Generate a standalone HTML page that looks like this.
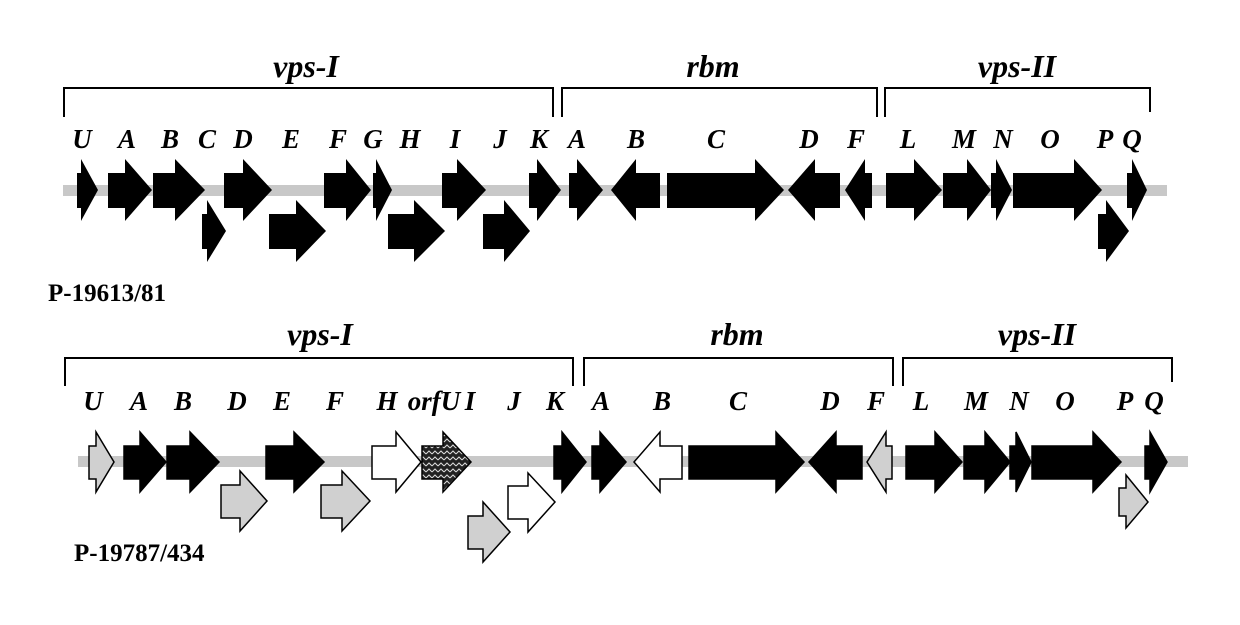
<!DOCTYPE html>
<html><head><meta charset="utf-8"><style>
html,body{margin:0;padding:0;background:#fff;}
svg{display:block;}
.g{font-family:"Liberation Serif",serif;font-style:italic;font-weight:bold;font-size:27px;fill:#000;text-anchor:middle;}
.h{font-family:"Liberation Serif",serif;font-style:italic;font-weight:bold;font-size:32px;fill:#000;text-anchor:middle;}
.p{font-family:"Liberation Serif",serif;font-weight:bold;font-size:25px;fill:#000;}
</style></head><body>
<svg width="1240" height="625" viewBox="0 0 1240 625" xmlns="http://www.w3.org/2000/svg">
<defs>
<pattern id="hatch" width="6" height="6" patternUnits="userSpaceOnUse">
<rect width="6" height="6" fill="#222"/>
<path d="M0 4 L3 1 L6 4" stroke="#ddd" stroke-width="1" fill="none"/>
</pattern>
</defs>
<g stroke="#000" stroke-width="2" fill="none">
<path d="M64 117 V88 H553 V117"/>
<path d="M562 117 V88 H877 V117"/>
<path d="M885 117 V88 H1150 V112"/>
<path d="M65 386 V358 H573 V386"/>
<path d="M584 386 V358 H893 V386"/>
<path d="M903 386 V358 H1172 V382"/>
</g>
<text class="h" x="306" y="77">vps-I</text>
<text class="h" x="713" y="77">rbm</text>
<text class="h" x="1017" y="77">vps-II</text>
<text class="h" x="320" y="345">vps-I</text>
<text class="h" x="737" y="345">rbm</text>
<text class="h" x="1037" y="345">vps-II</text>
<g class="g">
<text x="82" y="148">U</text><text x="127" y="148">A</text><text x="170" y="148">B</text><text x="207" y="148">C</text><text x="243" y="148">D</text><text x="291" y="148">E</text><text x="338" y="148">F</text><text x="373" y="148">G</text><text x="410" y="148">H</text><text x="455" y="148">I</text><text x="500" y="148">J</text><text x="539" y="148">K</text>
<text x="577" y="148">A</text><text x="636" y="148">B</text><text x="716" y="148">C</text><text x="809" y="148">D</text><text x="856" y="148">F</text><text x="908" y="148">L</text><text x="964" y="148">M</text><text x="1003" y="148">N</text><text x="1050" y="148">O</text><text x="1105" y="148">P</text><text x="1132" y="148">Q</text>
</g>
<g class="g">
<text x="93" y="410">U</text><text x="139" y="410">A</text><text x="183" y="410">B</text><text x="237" y="410">D</text><text x="282" y="410">E</text><text x="335" y="410">F</text><text x="387" y="410">H</text><text x="434" y="410">orfU</text><text x="470" y="410">I</text><text x="514" y="410">J</text><text x="555" y="410">K</text>
<text x="601" y="410">A</text><text x="662" y="410">B</text><text x="738" y="410">C</text><text x="830" y="410">D</text><text x="876" y="410">F</text><text x="921" y="410">L</text><text x="976" y="410">M</text><text x="1019" y="410">N</text><text x="1065" y="410">O</text><text x="1125" y="410">P</text><text x="1154" y="410">Q</text>
</g>
<text class="p" x="48" y="301">P-19613/81</text>
<text class="p" x="74" y="561">P-19787/434</text>
<rect x="63" y="185" width="1104" height="11" fill="#c8c8c8"/>
<rect x="78" y="456" width="1110" height="11" fill="#c8c8c8"/>
<g fill="#000">
<polygon points="77,173 81,173 81,159 98,190 81,221 81,208 77,208"/>
<polygon points="108,173 125,173 125,159 152,190 125,221 125,208 108,208"/>
<polygon points="153,173 175,173 175,159 205,190 175,221 175,208 153,208"/>
<polygon points="224,173 243,173 243,159 272,190 243,221 243,208 224,208"/>
<polygon points="324,173 346,173 346,159 371,190 346,221 346,208 324,208"/>
<polygon points="373,173 376,173 376,159 392,190 376,221 376,208 373,208"/>
<polygon points="442,173 457,173 457,159 486,190 457,221 457,208 442,208"/>
<polygon points="529,173 537,173 537,159 561,190 537,221 537,208 529,208"/>
<polygon points="569,173 577,173 577,159 603,190 577,221 577,208 569,208"/>
<polygon points="667,173 755,173 755,159 784,190 755,221 755,208 667,208"/>
<polygon points="886,173 914,173 914,159 942,190 914,221 914,208 886,208"/>
<polygon points="943,173 967,173 967,159 991,190 967,221 967,208 943,208"/>
<polygon points="991,173 996,173 996,159 1012,190 996,221 996,208 991,208"/>
<polygon points="1013,173 1074,173 1074,159 1102,190 1074,221 1074,208 1013,208"/>
<polygon points="1127,173 1132,173 1132,159 1147,190 1132,221 1132,208 1127,208"/>
<polygon points="660,173 636,173 636,159 611,190 636,221 636,208 660,208"/>
<polygon points="840,173 815,173 815,159 788,190 815,221 815,208 840,208"/>
<polygon points="872,173 865,173 865,159 845,190 865,221 865,208 872,208"/>
<polygon points="202,214 207,214 207,200 226,231 207,262 207,249 202,249"/>
<polygon points="269,214 296,214 296,200 326,231 296,262 296,249 269,249"/>
<polygon points="388,214 414,214 414,200 445,231 414,262 414,249 388,249"/>
<polygon points="483,214 504,214 504,200 530,231 504,262 504,249 483,249"/>
<polygon points="1098,214 1106,214 1106,200 1129,231 1106,262 1106,249 1098,249"/>
</g>
<g stroke="#000" stroke-width="1.5">
<polygon fill="#d0d0d0" points="89,446 96,446 96,432 114,462 96,492 96,479 89,479"/>
<polygon fill="#000" points="124,446 140,446 140,432 166,462 140,492 140,479 124,479"/>
<polygon fill="#000" points="167,446 190,446 190,432 219,462 190,492 190,479 167,479"/>
<polygon fill="#000" points="266,446 294,446 294,432 324,462 294,492 294,479 266,479"/>
<polygon fill="#fff" points="372,446 396,446 396,432 421,462 396,492 396,479 372,479"/>
<polygon fill="url(#hatch)" points="422,446 443,446 443,432 471,462 443,492 443,479 422,479"/>
<polygon fill="#000" points="554,446 562,446 562,432 586,462 562,492 562,479 554,479"/>
<polygon fill="#000" points="592,446 600,446 600,432 626,462 600,492 600,479 592,479"/>
<polygon fill="#fff" points="682,446 660,446 660,432 634,462 660,492 660,479 682,479"/>
<polygon fill="#000" points="689,446 776,446 776,432 804,462 776,492 776,479 689,479"/>
<polygon fill="#000" points="862,446 836,446 836,432 809,462 836,492 836,479 862,479"/>
<polygon fill="#d0d0d0" points="892,446 886,446 886,432 867,462 886,492 886,479 892,479"/>
<polygon fill="#000" points="906,446 935,446 935,432 962,462 935,492 935,479 906,479"/>
<polygon fill="#000" points="964,446 985,446 985,432 1010,462 985,492 985,479 964,479"/>
<polygon fill="#000" points="1010,446 1016,446 1016,432 1031,462 1016,492 1016,479 1010,479"/>
<polygon fill="#000" points="1032,446 1093,446 1093,432 1121,462 1093,492 1093,479 1032,479"/>
<polygon fill="#000" points="1145,446 1150,446 1150,432 1167,462 1150,492 1150,479 1145,479"/>
<polygon fill="#d0d0d0" points="221,485 240,485 240,471 267,501 240,531 240,518 221,518"/>
<polygon fill="#d0d0d0" points="321,485 342,485 342,471 370,501 342,531 342,518 321,518"/>
<polygon fill="#fff" points="508,486 528,486 528,473 555,502 528,532 528,519 508,519"/>
<polygon fill="#d0d0d0" points="468,516 483,516 483,502 510,532 483,562 483,549 468,549"/>
<polygon fill="#d0d0d0" points="1119,488 1126,488 1126,475 1148,502 1126,528 1126,516 1119,516"/>
</g>
</svg>
</body></html>
